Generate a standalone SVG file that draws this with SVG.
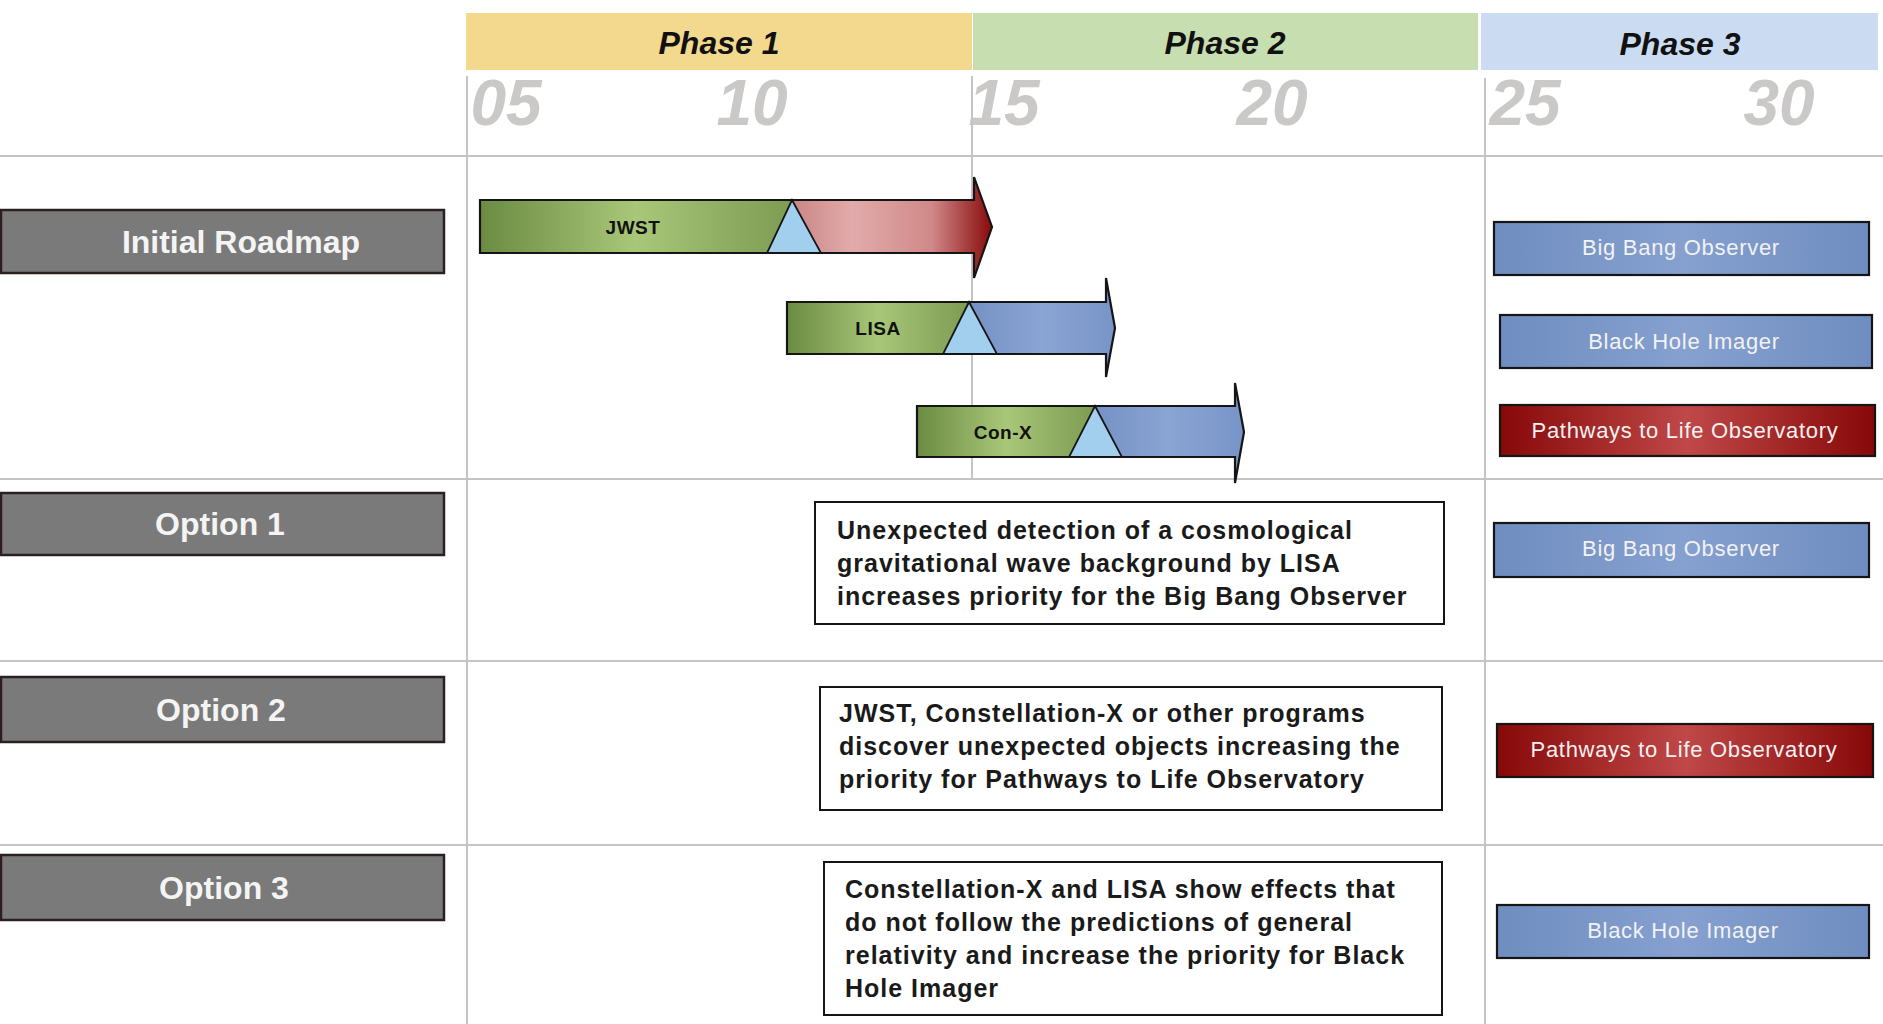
<svg xmlns="http://www.w3.org/2000/svg" width="1883" height="1024" viewBox="0 0 1883 1024">
  <defs>
    <linearGradient id="gGreen" x1="0" y1="0" x2="1" y2="0">
      <stop offset="0" stop-color="#6b8b43"/>
      <stop offset="0.5" stop-color="#a9c778"/>
      <stop offset="1" stop-color="#7d9b52"/>
    </linearGradient>
    <linearGradient id="gRed" x1="0" y1="0" x2="1" y2="0">
      <stop offset="0" stop-color="#c98585"/>
      <stop offset="0.3" stop-color="#e2abab"/>
      <stop offset="0.7" stop-color="#d08888"/>
      <stop offset="1" stop-color="#880a0a"/>
    </linearGradient>
    <linearGradient id="gBlue" x1="0" y1="0" x2="1" y2="0">
      <stop offset="0" stop-color="#7591c4"/>
      <stop offset="0.5" stop-color="#8aa5d4"/>
      <stop offset="1" stop-color="#7893c6"/>
    </linearGradient>
    <linearGradient id="gBoxBlue" x1="0" y1="0" x2="1" y2="0">
      <stop offset="0" stop-color="#6f8dc0"/>
      <stop offset="0.5" stop-color="#86a1d0"/>
      <stop offset="1" stop-color="#6f8dc0"/>
    </linearGradient>
    <linearGradient id="gBoxRed" x1="0" y1="0" x2="1" y2="0">
      <stop offset="0" stop-color="#870808"/>
      <stop offset="0.5" stop-color="#c04848"/>
      <stop offset="1" stop-color="#870808"/>
    </linearGradient>
    <style>
      .grid { stroke: #c4c4c4; stroke-width: 2; fill: none; }
      .phase { font-family: "Liberation Sans", Arial, sans-serif; font-weight: bold; font-style: italic; font-size: 32px; fill: #111; text-anchor: middle; }
      .year { font-family: "Liberation Sans", Arial, sans-serif; font-weight: bold; font-style: italic; font-size: 64px; fill: #cbc8c8; text-anchor: middle; }
      .row rect { fill: #7a7a7a; stroke: #2a2020; stroke-width: 2.5; }
      .row text { font-family: "Liberation Sans", Arial, sans-serif; font-weight: bold; font-size: 32px; fill: #f4f4f4; text-anchor: middle; }
      .outline { fill: none; stroke: #151515; stroke-width: 2.2; stroke-linejoin: miter; }
      .tri { fill: #a2cfee; stroke: #151515; stroke-width: 1.8; }
      .barlabel { font-family: "Liberation Sans", Arial, sans-serif; font-weight: bold; font-size: 19px; letter-spacing: 0.5px; fill: #111; text-anchor: middle; }
      .mission rect { stroke: #151515; stroke-width: 2.2; }
      .mission text { font-family: "Liberation Sans", Arial, sans-serif; font-size: 22px; letter-spacing: 0.7px; fill: #f2f2f2; text-anchor: middle; }
      .note rect { fill: #fff; stroke: #151515; stroke-width: 2; }
      .note text { font-family: "Liberation Sans", Arial, sans-serif; font-weight: bold; font-size: 25px; letter-spacing: 1px; fill: #1a1a1a; }
    </style>
  </defs>

  <rect width="1883" height="1024" fill="#ffffff"/>

  <!-- phase header bands -->
  <g id="phases">
    <rect x="466" y="13" width="506" height="57" fill="#f3d98e"/>
    <rect x="973" y="13" width="505" height="57" fill="#c6deb0"/>
    <rect x="1481" y="13" width="397" height="57" fill="#cbdcf2"/>
    <text class="phase" x="719" y="54">Phase 1</text>
    <text class="phase" x="1225" y="54">Phase 2</text>
    <text class="phase" x="1680" y="55">Phase 3</text>
  </g>

  <!-- year scale -->
  <g id="years">
    <text class="year" x="506" y="125">05</text>
    <text class="year" x="752" y="125">10</text>
    <text class="year" x="1004" y="125">15</text>
    <text class="year" x="1272" y="125">20</text>
    <text class="year" x="1525" y="125">25</text>
    <text class="year" x="1779" y="125">30</text>
  </g>

  <!-- grid lines -->
  <g id="grid">
    <line class="grid" x1="0" y1="156" x2="1883" y2="156"/>
    <line class="grid" x1="0" y1="479" x2="1883" y2="479"/>
    <line class="grid" x1="0" y1="661" x2="1883" y2="661"/>
    <line class="grid" x1="0" y1="845" x2="1883" y2="845"/>
    <line class="grid" x1="467" y1="76" x2="467" y2="1024"/>
    <line class="grid" x1="972" y1="76" x2="972" y2="479"/>
    <line class="grid" x1="1485" y1="78" x2="1485" y2="1024"/>
  </g>

  <!-- row headers -->
  <g id="row-roadmap" class="row">
    <rect x="1" y="210" width="443" height="63"/>
    <text x="241" y="253">Initial Roadmap</text>
  </g>
  <g id="row-option1" class="row">
    <rect x="1" y="493" width="443" height="62"/>
    <text x="220" y="535">Option 1</text>
  </g>
  <g id="row-option2" class="row">
    <rect x="1" y="677" width="443" height="65"/>
    <text x="221" y="721">Option 2</text>
  </g>
  <g id="row-option3" class="row">
    <rect x="1" y="855" width="443" height="65"/>
    <text x="224" y="899">Option 3</text>
  </g>

  <!-- mission timelines -->
  <g id="bar-jwst">
    <polygon points="480,200 792,200 767,253 480,253" fill="url(#gGreen)"/>
    <polygon points="792,200 974,200 974,177 992,227 974,278 974,253 821,253" fill="url(#gRed)"/>
    <polygon class="tri" points="792,200 821,253 767,253"/>
    <path class="outline" d="M480,200 H974 V177 L992,227 L974,278 V253 H480 Z"/>
    <text class="barlabel" x="633" y="234">JWST</text>
  </g>
  <g id="bar-lisa">
    <polygon points="787,302 969,302 943,354 787,354" fill="url(#gGreen)"/>
    <polygon points="969,302 1106,302 1106,278 1115,328 1106,377 1106,354 997,354" fill="url(#gBlue)"/>
    <polygon class="tri" points="969,302 997,354 943,354"/>
    <path class="outline" d="M787,302 H1106 V278 L1115,328 L1106,377 V354 H787 Z"/>
    <text class="barlabel" x="878" y="335">LISA</text>
  </g>
  <g id="bar-conx">
    <polygon points="917,406 1095,406 1069,457 917,457" fill="url(#gGreen)"/>
    <polygon points="1095,406 1235,406 1235,383 1244,432 1235,483 1235,457 1122,457" fill="url(#gBlue)"/>
    <polygon class="tri" points="1095,406 1122,457 1069,457"/>
    <path class="outline" d="M917,406 H1235 V383 L1244,432 L1235,483 V457 H917 Z"/>
    <text class="barlabel" x="1003" y="439">Con-X</text>
  </g>

  <!-- phase 3 missions -->
  <g id="m-bbo-1" class="mission">
    <rect x="1494" y="222" width="375" height="53" fill="url(#gBoxBlue)"/>
    <text x="1681" y="255">Big Bang Observer</text>
  </g>
  <g id="m-bhi-1" class="mission">
    <rect x="1500" y="315" width="372" height="53" fill="url(#gBoxBlue)"/>
    <text x="1684" y="349">Black Hole Imager</text>
  </g>
  <g id="m-plo-1" class="mission">
    <rect x="1500" y="405" width="375" height="51" fill="url(#gBoxRed)"/>
    <text x="1685" y="438">Pathways to Life Observatory</text>
  </g>
  <g id="m-bbo-2" class="mission">
    <rect x="1494" y="523" width="375" height="54" fill="url(#gBoxBlue)"/>
    <text x="1681" y="556">Big Bang Observer</text>
  </g>
  <g id="m-plo-2" class="mission">
    <rect x="1497" y="724" width="376" height="53" fill="url(#gBoxRed)"/>
    <text x="1684" y="757">Pathways to Life Observatory</text>
  </g>
  <g id="m-bhi-2" class="mission">
    <rect x="1497" y="905" width="372" height="53" fill="url(#gBoxBlue)"/>
    <text x="1683" y="938">Black Hole Imager</text>
  </g>

  <!-- scenario notes -->
  <g id="note-option1" class="note">
    <rect x="815" y="502" width="629" height="122"/>
    <text x="837" y="539">Unexpected detection of a cosmological</text>
    <text x="837" y="572">gravitational wave background by LISA</text>
    <text x="837" y="605">increases priority for the Big Bang Observer</text>
  </g>
  <g id="note-option2" class="note">
    <rect x="820" y="687" width="622" height="123"/>
    <text x="839" y="722">JWST, Constellation-X or other programs</text>
    <text x="839" y="755">discover unexpected objects increasing the</text>
    <text x="839" y="788">priority for Pathways to Life Observatory</text>
  </g>
  <g id="note-option3" class="note">
    <rect x="824" y="862" width="618" height="153"/>
    <text x="845" y="898">Constellation-X and LISA show effects that</text>
    <text x="845" y="931">do not follow the predictions of general</text>
    <text x="845" y="964">relativity and increase the priority for Black</text>
    <text x="845" y="997">Hole Imager</text>
  </g>

  <!-- no connectors in this chart -->
  <g id="connectors"/>
</svg>
